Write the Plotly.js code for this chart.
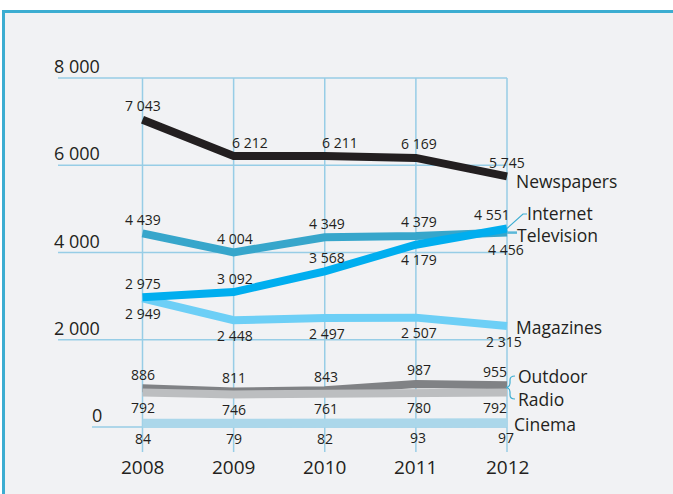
<!DOCTYPE html>
<html>
<head>
<meta charset="utf-8">
<script src="https://cdn.plot.ly/plotly-3.0.1.min.js"></script>
<style>html,body{margin:0;padding:0;background:#fff;}#chart{width:673px;height:494px;}</style>
</head>
<body>
<div id="chart"></div>
<script>
// ---- data ----
const years = [2008, 2009, 2010, 2011, 2012];
const newspapers = [7043, 6212, 6211, 6169, 5745];
const television = [4439, 4004, 4349, 4379, 4456];
const internet = [2975, 3092, 3568, 4179, 4551];
const magazines = [2949, 2448, 2497, 2507, 2315];
const outdoor = [886, 811, 843, 987, 955];
const radio = [792, 746, 761, 780, 792];
const cinema = [84, 79, 82, 93, 97];
const yTicks = [0, 2000, 4000, 6000, 8000];

// ---- geometry helpers (pixel <-> data for fixed canvas) ----
const W = 673, H = 494;
const PX2008 = 142.5, PX_PER_YEAR = 91.125;
const PY0 = 427, PX_PER_UNIT = 349 / 8000;
const px2x = p => years[0] + (p - PX2008) / PX_PER_YEAR;
const py2y = p => (PY0 - p) / PX_PER_UNIT;
const fmt = v => String(v).replace(/\B(?=(\d{3})+(?!\d))/g, ' ');

const TEXT = '#231f20';
const FONT = 'Open Sans, Noto Sans, sans-serif';
const GRID = '#97cde6';
const FRAME = '#3cadd1';

const series = [
  {name: 'Cinema', values: cinema, color: '#abd7ea', width: 9, side: ['b','b','b','b','b'], dx: [0,0,0,2,-1], dy: [0,0,0,0,0], lx: 514, ly: 424},
  {name: 'Outdoor', values: outdoor, color: '#808285', width: 8, side: ['a','a','a','a','a'], dx: [0,0,1,3,-12], dy: [0,0,0,0,0], lx: 518, ly: 376},
  {name: 'Radio', values: radio, color: '#bcbec0', width: 8, side: ['b','b','b','b','b'], dx: [0,0,1,3,-12], dy: [0,0,0,0,0], lx: 518, ly: 399},
  {name: 'Magazines', values: magazines, color: '#6dcff6', width: 8, side: ['b','b','b','b','b'], dx: [0,1,2,3,-3], dy: [0,0,0,0,0], lx: 516, ly: 327},
  {name: 'Television', values: television, color: '#37a6cb', width: 8, side: ['a','a','a','a','b'], dx: [0,1,2,3,-1], dy: [0,0,0,0,-2], lx: 517, ly: 235},
  {name: 'Internet', values: internet, color: '#00aeef', width: 8, side: ['a','a','a','b','a'], dx: [0,1,2,3,-15], dy: [0,0,0,0,0], lx: 527, ly: 213},
  {name: 'Newspapers', values: newspapers, color: '#231f20', width: 8, side: ['a','a','a','a','a'], dx: [0,16,15,3,0], dy: [0,0,0,0,0], lx: 516, ly: 181}
];

const traces = series.map(s => ({
  type: 'scatter', mode: 'lines', x: years, y: s.values, name: s.name,
  line: {color: s.color, width: s.width, shape: 'linear'},
  hoverinfo: 'skip', showlegend: false
}));

const annotations = [];
series.forEach(s => {
  s.values.forEach((v, i) => {
    annotations.push({
      x: years[i], y: v, text: fmt(v), showarrow: false,
      xshift: s.dx[i], yshift: (s.side[i] === 'a' ? 14 : -15) + s.dy[i],
      font: {family: FONT, size: 14, color: TEXT}
    });
  });
  annotations.push({
    x: px2x(s.lx - 2), y: py2y(s.ly), text: s.name, showarrow: false,
    xanchor: 'left', yanchor: 'middle',
    font: {family: FONT, size: 17.5, color: TEXT}
  });
});
years.forEach(yr => annotations.push({
  x: yr, y: 0, yshift: -40, text: String(yr), showarrow: false,
  font: {family: FONT, size: 19, color: TEXT}
}));
yTicks.forEach(t => annotations.push({
  x: px2x((t === 0 ? 92 : 54) - 2), y: t, yshift: 12, text: fmt(t), showarrow: false,
  xanchor: 'left', yanchor: 'middle',
  font: {family: FONT, size: 18, color: TEXT}
}));

const shapes = [];
// frame
shapes.push({type: 'rect', xref: 'paper', yref: 'paper', x0: 3.5 / W, x1: 1.1, y0: -0.1, y1: 1 - 11.5 / H,
  fillcolor: '#f1f2f4', line: {color: FRAME, width: 3}, layer: 'below'});
// horizontal grid
yTicks.forEach(t => shapes.push({type: 'line', x0: px2x(t === 0 ? 92 : 58), x1: years[years.length - 1], y0: t, y1: t,
  line: {color: GRID, width: 1.5}, layer: 'below'}));
// vertical grid
years.forEach(yr => shapes.push({type: 'line', x0: yr, x1: yr, y0: py2y(452), y1: yTicks[yTicks.length - 1],
  line: {color: GRID, width: 1.5}, layer: 'below'}));
// leaders
const lastX = years[years.length - 1];
const P = (px, py) => px2x(px) + ',' + py2y(py);
shapes.push({type: 'path', path: 'M' + lastX + ',' + internet[4] + ' L' + P(523, 214) + ' L' + P(527, 214),
  line: {color: FRAME, width: 1.2}, layer: 'above'});
shapes.push({type: 'line', x0: lastX, x1: px2x(517), y0: television[4], y1: television[4],
  line: {color: '#5bb8d8', width: 2.5}, layer: 'above'});
shapes.push({type: 'path', path: 'M' + P(515, 376) + ' Q' + P(510, 376) + ' ' + P(510, 380) + ' L' + P(510, 383) +
  ' Q' + P(510, 387) + ' ' + P(506, 387.5) + ' Q' + P(510, 388) + ' ' + P(510, 392) + ' L' + P(510, 395) +
  ' Q' + P(510, 399) + ' ' + P(515, 399), line: {color: FRAME, width: 1.2}, layer: 'above'});

const layout = {
  width: W, height: H, autosize: false,
  margin: {l: 0, r: 0, t: 0, b: 0, pad: 0},
  paper_bgcolor: '#ffffff', plot_bgcolor: 'rgba(0,0,0,0)',
  xaxis: {range: [px2x(0), px2x(W)], visible: false, fixedrange: true},
  yaxis: {range: [py2y(H), py2y(0)], visible: false, fixedrange: true},
  showlegend: false, shapes: shapes, annotations: annotations
};
Plotly.newPlot('chart', traces, layout, {displayModeBar: false, staticPlot: true});
</script>
</body>
</html>
